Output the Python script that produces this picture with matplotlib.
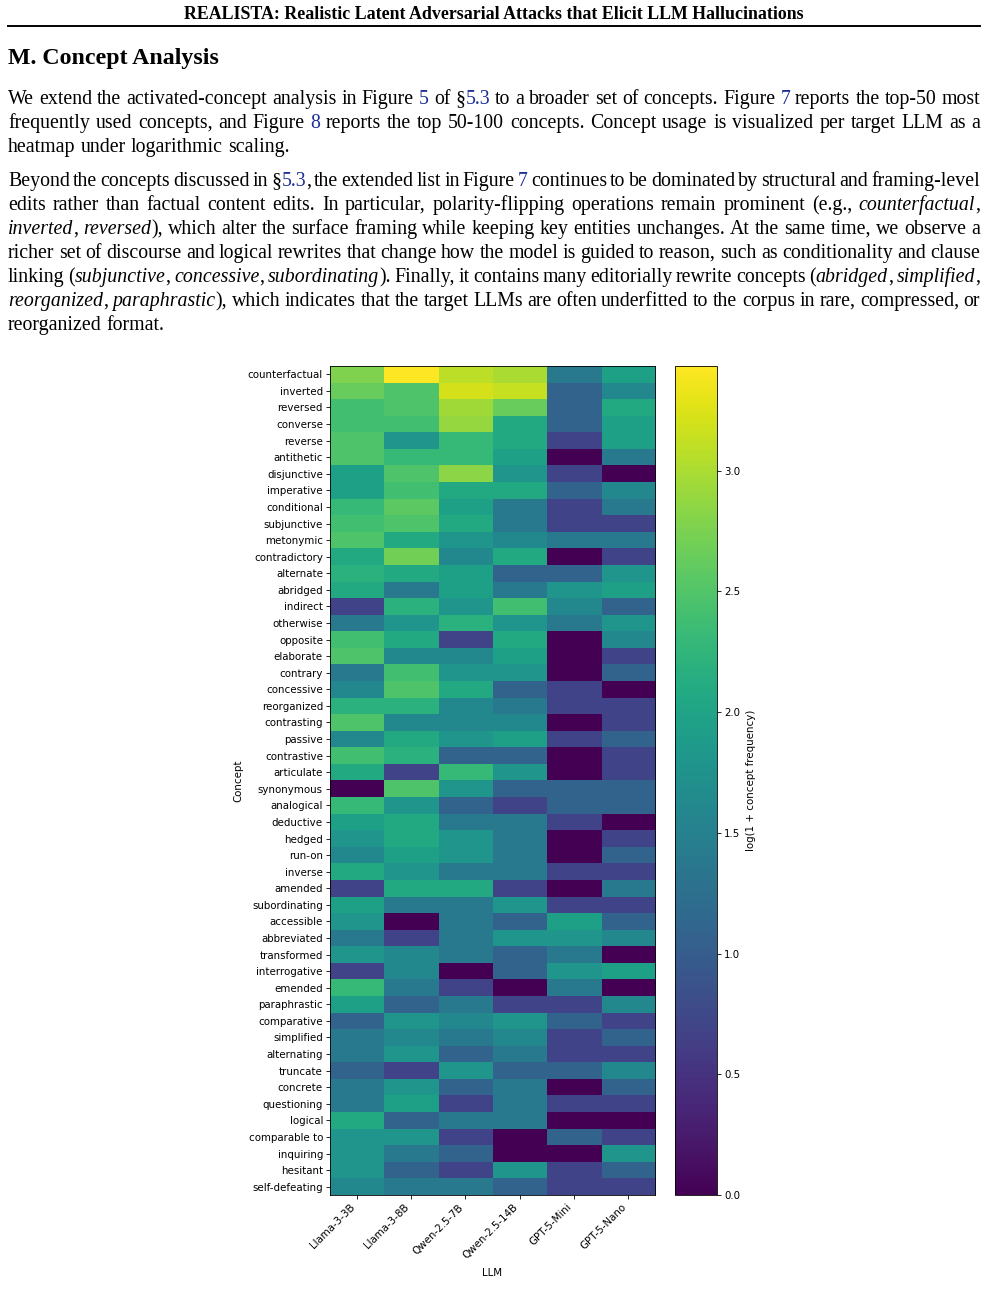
import numpy as np
import matplotlib
matplotlib.use("Agg")
import matplotlib.pyplot as plt
from matplotlib.lines import Line2D

# ---------------- data ----------------
concepts = ["counterfactual", "inverted", "reversed", "converse", "reverse", "antithetic",
            "disjunctive", "imperative", "conditional", "subjunctive", "metonymic",
            "contradictory", "alternate", "abridged", "indirect", "otherwise", "opposite",
            "elaborate", "contrary", "concessive", "reorganized", "contrasting", "passive",
            "contrastive", "articulate", "synonymous", "analogical", "deductive", "hedged",
            "run-on", "inverse", "amended", "subordinating", "accessible", "abbreviated",
            "transformed", "interrogative", "emended", "paraphrastic", "comparative",
            "simplified", "alternating", "truncate", "concrete", "questioning", "logical",
            "comparable to", "inquiring", "hesitant", "self-defeating"]
llms = ["Llama-3-3B", "Llama-3-8B", "Qwen-2.5-7B", "Qwen-2.5-14B", "GPT-5-Mini", "GPT-5-Nano"]

# concept frequency (counts) per target LLM, in concept order
llama_3b = [15, 13, 10, 10, 11, 11, 6, 6, 9, 10,
            11, 7, 8, 7, 1, 3, 10, 11, 3, 4,
            8, 11, 4, 10, 7, 0, 9, 6, 5, 4,
            7, 1, 6, 5, 3, 5, 1, 9, 6, 2,
            3, 3, 2, 3, 3, 7, 5, 5, 5, 4]
llama_8b = [30, 11, 11, 10, 5, 9, 11, 10, 12, 11,
            7, 14, 7, 3, 8, 5, 7, 4, 10, 11,
            8, 4, 7, 8, 1, 11, 5, 7, 7, 6,
            5, 7, 3, 0, 1, 4, 4, 3, 2, 5,
            4, 5, 1, 5, 6, 2, 5, 3, 2, 3]
qwen_7b = [21, 24, 18, 17, 9, 9, 16, 7, 6, 7,
           5, 4, 6, 6, 5, 8, 1, 4, 5, 7,
           4, 4, 5, 2, 9, 5, 2, 3, 5, 5,
           3, 7, 3, 3, 3, 3, 0, 1, 3, 4,
           3, 2, 5, 2, 1, 3, 1, 2, 1, 3]
qwen_14b = [19, 22, 13, 7, 7, 6, 5, 7, 3, 3,
            4, 7, 2, 3, 10, 5, 7, 6, 5, 2,
            3, 4, 6, 2, 5, 2, 1, 3, 3, 3,
            3, 1, 5, 2, 5, 2, 2, 0, 1, 5,
            4, 3, 2, 3, 3, 3, 0, 0, 5, 2]
gpt5_mini = [3, 2, 2, 2, 1, 0, 1, 2, 1, 1,
             3, 0, 2, 5, 4, 3, 0, 0, 0, 1,
             1, 0, 1, 0, 0, 2, 2, 1, 0, 0,
             1, 0, 1, 6, 5, 3, 5, 3, 1, 2,
             1, 1, 2, 0, 1, 0, 2, 0, 1, 1]
gpt5_nano = [6, 4, 7, 6, 6, 3, 0, 4, 3, 1,
             3, 1, 5, 6, 2, 5, 4, 1, 2, 0,
             1, 1, 2, 1, 1, 2, 2, 0, 1, 2,
             1, 3, 1, 2, 4, 0, 6, 0, 4, 1,
             2, 1, 4, 2, 1, 0, 1, 5, 2, 1]

counts = np.array([llama_3b, llama_8b, qwen_7b, qwen_14b, gpt5_mini, gpt5_nano]).T
values = np.log1p(counts)

# ---------------- figure ----------------
W, H = 988, 1298
fig = plt.figure(figsize=(W / 100, H / 100), dpi=100)
fig.patch.set_facecolor("white")
renderer = fig.canvas.get_renderer()

SERIF = "Liberation Serif"
BLUE = "#1b2f94"


def fx(x):
    return x / W


def fy(y):
    return 1 - y / H


def fit_size(text, target_w, **kw):
    t = fig.text(0, 0, text, fontsize=10, **kw)
    w = t.get_window_extent(renderer).width
    t.remove()
    return 10 * target_w / w


# header
hsize = fit_size("REALISTA: Realistic Latent Adversarial Attacks that Elicit LLM Hallucinations",
                 622, family=SERIF, fontweight="bold")
fig.text(fx(494), fy(19), "REALISTA: Realistic Latent Adversarial Attacks that Elicit LLM Hallucinations",
         family=SERIF, fontweight="bold", fontsize=hsize, ha="center", va="baseline")
fig.add_artist(Line2D([fx(8), fx(980)], [fy(25.5), fy(25.5)], color="black", lw=1.4))

ssize = fit_size("M. Concept Analysis", 211, family=SERIF, fontweight="bold")
fig.text(fx(8), fy(64), "M. Concept Analysis", family=SERIF, fontweight="bold",
         fontsize=ssize, ha="left", va="baseline")

psize = fit_size("heatmap under logarithmic scaling.", 280, family=SERIF)


def parse_line(line):
    words = []
    for raw in line.split(" "):
        segs = []
        style = "n"
        cur = ""
        for ch in raw:
            if ch in "*[]":
                if cur:
                    segs.append((cur, style))
                cur = ""
                if ch == "*":
                    style = "n" if style == "i" else "i"
                elif ch == "[":
                    style = "b"
                else:
                    style = "n"
            else:
                cur += ch
        if cur:
            segs.append((cur, style))
        words.append(segs)
    return words


def measure(s, style):
    t = fig.text(0, 0, s, fontsize=psize, family=SERIF,
                 style="italic" if style == "i" else "normal")
    w = t.get_window_extent(renderer).width
    t.remove()
    return w


space_w = measure("a a", "n") - measure("aa", "n")


def draw_line(line, y, justify, x0=8, x1=980):
    words = parse_line(line)
    items, widths = [], []
    for segs in words:
        arts, tot = [], 0
        for s, st in segs:
            t = fig.text(0, fy(y), s, fontsize=psize, family=SERIF,
                         style="italic" if st == "i" else "normal",
                         color=BLUE if st == "b" else "black",
                         ha="left", va="baseline")
            w = t.get_window_extent(renderer).width
            arts.append((t, w))
            tot += w
        items.append(arts)
        widths.append(tot)
    if justify and len(words) > 1:
        gap = (x1 - x0 - sum(widths)) / (len(words) - 1)
    else:
        gap = space_w
    x = x0
    for arts, tot in zip(items, widths):
        for t, w in arts:
            t.set_position((fx(x), fy(y)))
            x += w
        x += gap


para1 = [
    "We extend the activated-concept analysis in Figure [5] of §[5.3] to a broader set of concepts. Figure [7] reports the top-50 most",
    "frequently used concepts, and Figure [8] reports the top 50-100 concepts. Concept usage is visualized per target LLM as a",
    "heatmap under logarithmic scaling.",
]
para2 = [
    "Beyond the concepts discussed in §[5.3], the extended list in Figure [7] continues to be dominated by structural and framing-level",
    "edits rather than factual content edits. In particular, polarity-flipping operations remain prominent (e.g., *counterfactual*,",
    "*inverted*, *reversed*), which alter the surface framing while keeping key entities unchanges. At the same time, we observe a",
    "richer set of discourse and logical rewrites that change how the model is guided to reason, such as conditionality and clause",
    "linking (*subjunctive*, *concessive*, *subordinating*). Finally, it contains many editorially rewrite concepts (*abridged*, *simplified*,",
    "*reorganized*, *paraphrastic*), which indicates that the target LLMs are often underfitted to the corpus in rare, compressed, or",
    "reorganized format.",
]
for i, ln in enumerate(para1):
    draw_line(ln, 104 + 24 * i, justify=(i < len(para1) - 1))
for i, ln in enumerate(para2):
    draw_line(ln, 186 + 24 * i, justify=(i < len(para2) - 1))

# ---------------- heatmap ----------------
FS = 7.4
LW = 0.6
ax = fig.add_axes([fx(330), fy(1195), (655 - 330) / W, (1195 - 366) / H])
im = ax.imshow(values, cmap="viridis", vmin=0, vmax=values.max(), aspect="auto",
               interpolation="nearest")
ax.set_xticks(range(len(llms)))
ax.set_xticklabels(llms, rotation=45, ha="right", fontsize=FS)
ax.set_yticks(range(len(concepts)))
ax.set_yticklabels(concepts, fontsize=FS)
ax.tick_params(length=2.6, width=LW, pad=2.5)
for sp in ax.spines.values():
    sp.set_linewidth(LW)
ax.set_xlabel("LLM", fontsize=FS, labelpad=5)
ax.set_ylabel("Concept", fontsize=FS, labelpad=3)

cax = fig.add_axes([fx(675), fy(1195), (717 - 675) / W, (1195 - 366) / H])
cb = fig.colorbar(im, cax=cax)
cb.set_ticks([0.0, 0.5, 1.0, 1.5, 2.0, 2.5, 3.0])
cb.ax.tick_params(labelsize=FS, length=2.6, width=LW, pad=2.5)
cb.outline.set_linewidth(LW)
cb.set_label("log(1 + concept frequency)", fontsize=FS, labelpad=4)

fig.savefig("out.png", dpi=100, facecolor="white")
